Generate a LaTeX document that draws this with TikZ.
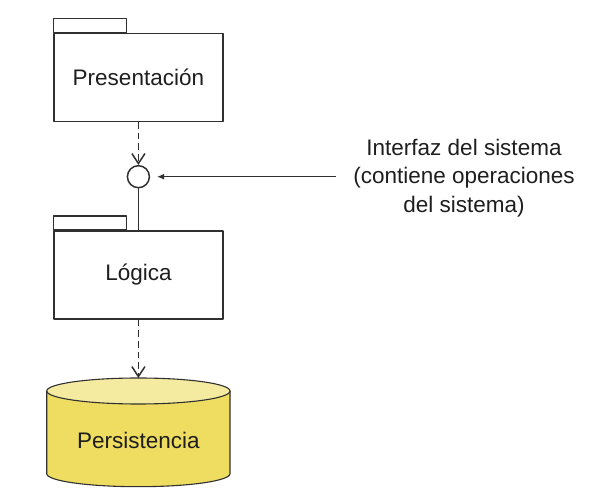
\documentclass[tikz,border=0pt]{standalone}
\usepackage{fontspec}
\setmainfont{Liberation Sans}
\usetikzlibrary{arrows.meta,positioning}
\definecolor{linea}{HTML}{303030}
\definecolor{texto}{HTML}{1E1E1E}
\definecolor{cuerpo}{HTML}{EEDD60}
\definecolor{tapa}{HTML}{F5EBA0}
\tikzset{
  paquete/.style={draw=linea, line width=1.5pt, minimum width=168.7pt, minimum height=88pt, inner sep=0pt, text=texto},
  pestana/.style={draw=linea, line width=1.5pt},
  dep/.style={draw=linea, line width=1.5pt, dash pattern=on 6.7pt off 4pt, -{Straight Barb[length=10pt,width=13pt,line width=1.5pt]}},
}
\begin{document}
\begin{tikzpicture}[x=1pt, y=1pt, font=\fontsize{22.5pt}{28.5pt}\selectfont, line join=round]
  \useasboundingbox (0,0) rectangle (589,498);
  % paquetes
  \node[paquete] (pres) at (138.4,420.7) {Presentación};
  \draw[pestana] (pres.north west) rectangle ++(73,14);
  \node[circle, draw=linea, line width=1.5pt, minimum size=22pt, inner sep=0pt] (interfaz) at (138.4,321.3) {};
  \node[paquete] (logica) at (138.4,223.1) {Lógica};
  \draw[pestana] (logica.north west) rectangle ++(73,14);
  % base de datos
  \fill[cuerpo] (46.7,107) -- (46.7,24.3) arc[start angle=180, end angle=360, x radius=91.65pt, y radius=13pt] -- (230,107) -- cycle;
  \fill[tapa] (138.4,107) ellipse[x radius=91.65pt, y radius=13pt];
  \draw[linea, line width=1.1pt] (46.7,107) -- (46.7,24.3) arc[start angle=180, end angle=360, x radius=91.65pt, y radius=13pt] -- (230,107);
  \draw[linea, line width=1.1pt] (138.4,107) ellipse[x radius=91.65pt, y radius=13pt];
  \coordinate (bdtop) at (138.4,120);
  \node[text=texto] (bd) at (138.4,58) {Persistencia};
  % nota
  \node[text=texto, align=center, inner sep=0pt] (nota) at (464,320) {Interfaz del sistema\\(contiene operaciones\\del sistema)};
  \coordinate (notaini) at ([xshift=-17pt]nota.west);
  % conectores
  \draw[dep] (pres.south) -- (interfaz.north);
  \draw[linea, line width=1.5pt] (interfaz.south) -- (logica.north);
  \draw[dep] (logica.south) -- (bdtop);
  \draw[linea, line width=1.1pt, -{Latex[length=7pt,width=6pt]}, shorten >=7pt] (notaini |- interfaz.east) -- (interfaz.east);
\end{tikzpicture}
\end{document}
